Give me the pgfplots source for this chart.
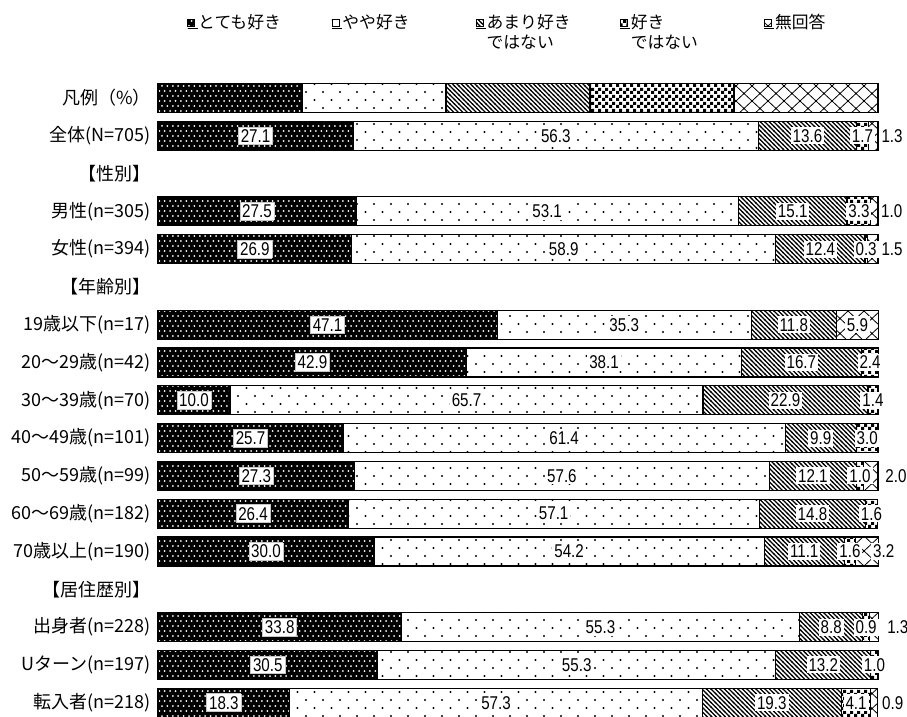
\documentclass[border=0pt]{standalone}
\usepackage{fontspec}
\setmainfont{Noto Sans CJK JP}
\newfontfamily\numfont{Liberation Sans}[FakeStretch=0.82]
\usepackage{pgfplots}
\pgfplotsset{compat=1.18}
\usepackage{pgfplotstable}
\usetikzlibrary{patterns}

\pgfdeclarepatternformonly{wdots}{\pgfqpoint{-1.5pt}{-1.5pt}}{\pgfqpoint{6.9pt}{11.5pt}}{\pgfqpoint{5.4pt}{10pt}}{%
  \pgfpathcircle{\pgfqpoint{0pt}{0pt}}{1.0pt}%
  \pgfpathcircle{\pgfqpoint{2.7pt}{5pt}}{1.0pt}%
  \pgfusepath{fill}}
\pgfdeclarepatternformonly{sdots}{\pgfqpoint{-1.5pt}{-1.5pt}}{\pgfqpoint{18.5pt}{17.5pt}}{\pgfqpoint{17pt}{16pt}}{%
  \pgfpathcircle{\pgfqpoint{0pt}{0pt}}{1.1pt}%
  \pgfpathcircle{\pgfqpoint{8.5pt}{8pt}}{1.1pt}%
  \pgfusepath{fill}}
\pgfdeclarepatternformonly{hatch}{\pgfqpoint{-1pt}{-1pt}}{\pgfqpoint{5.5pt}{5.5pt}}{\pgfqpoint{4.5pt}{4.5pt}}{%
  \pgfsetlinewidth{1.1pt}%
  \pgfpathmoveto{\pgfqpoint{-0.5pt}{5pt}}\pgfpathlineto{\pgfqpoint{5pt}{-0.5pt}}%
  \pgfusepath{stroke}}
\pgfdeclarepatternformonly{checker}{\pgfqpoint{0pt}{0pt}}{\pgfqpoint{7pt}{7pt}}{\pgfqpoint{7pt}{7pt}}{%
  \pgfpathrectangle{\pgfqpoint{0pt}{0pt}}{\pgfqpoint{3.5pt}{3.5pt}}%
  \pgfpathrectangle{\pgfqpoint{3.5pt}{3.5pt}}{\pgfqpoint{3.5pt}{3.5pt}}%
  \pgfusepath{fill}}
\pgfdeclarepatternformonly{diamond}{\pgfqpoint{-1pt}{-1pt}}{\pgfqpoint{17pt}{16pt}}{\pgfqpoint{16pt}{15pt}}{%
  \pgfsetlinewidth{0.8pt}%
  \pgfpathmoveto{\pgfqpoint{-0.5pt}{-0.47pt}}\pgfpathlineto{\pgfqpoint{16.5pt}{15.47pt}}%
  \pgfpathmoveto{\pgfqpoint{-0.5pt}{15.47pt}}\pgfpathlineto{\pgfqpoint{16.5pt}{-0.47pt}}%
  \pgfusepath{stroke}}

\pgfplotstableread{
y  a    b    c    d   e   eo
16 20   20   20   20  20  0
15 27.1 56.3 13.6 1.7 1.3 2.6
13 27.5 53.1 15.1 3.3 1.0 2.4
12 26.9 58.9 12.4 0.3 1.5 2.7
10 47.1 35.3 11.8 0   5.9 0
9  42.9 38.1 16.7 2.4 0   0
8  10.0 65.7 22.9 1.4 0   0
7  25.7 61.4 9.9  3.0 0   0
6  27.3 57.6 12.1 1.0 2.0 3.5
5  26.4 57.1 14.8 1.6 0   0
4  30.0 54.2 11.1 1.6 3.2 2.3
2  33.8 55.3 8.8  0.9 1.3 3.3
1  30.5 55.3 13.2 1.0 0   0
0  18.3 57.3 19.3 4.1 0.9 2.6
}\data

\def\zerostr{0}
\setlength{\fboxsep}{2pt}
\setlength{\fboxrule}{0.7pt}
\newcommand\boxA[1]{\edef\tmp{#1}\ifx\tmp\zerostr\else\fcolorbox{gray!45}{white}{\tmp}\fi}
\newcommand\boxB[1]{\edef\tmp{#1}\ifx\tmp\zerostr\else\colorbox{white}{\tmp}\fi}

\pgfplotsset{
  sA/.style={draw=black, line width=1.2pt, fill=black, postaction={pattern=wdots, pattern color=white}},
  sB/.style={draw=black, line width=1.2pt, fill=white, postaction={pattern=sdots, pattern color=black}},
  sC/.style={draw=black, line width=1.2pt, fill=white, postaction={pattern=hatch, pattern color=black}},
  sD/.style={draw=black, line width=1.2pt, fill=white, postaction={pattern=checker, pattern color=black}},
  sE/.style={draw=black, line width=1.2pt, fill=white, postaction={pattern=diamond, pattern color=black}},
  lab/.style={only marks, mark=*, mark size=0pt, mark options={draw=none, fill=none},
    point meta=explicit symbolic, skip coords between index={0}{1}},
}

\begin{document}
\begin{tikzpicture}
\begin{axis}[
  name=main,
  scale only axis, width=720pt, height=642.6pt,
  xbar stacked, bar width=29pt,
  xmin=0, xmax=100, ymin=-0.5, ymax=16.5,
  axis line style={draw=none}, xtick=\empty,
  ytick={0,1,...,16},
  yticklabels={転入者(n=218), Uターン(n=197), 出身者(n=228), 【居住歴別】, 70歳以上(n=190), 60～69歳(n=182), 50～59歳(n=99), 40～49歳(n=101), 30～39歳(n=70), 20～29歳(n=42), 19歳以下(n=17), 【年齢別】, 女性(n=394), 男性(n=305), 【性別】, 全体(N=705), 凡例（\%）},
  major tick length=0pt,
  yticklabel style={font=\fontsize{18}{20}\selectfont, anchor=east, inner sep=0pt, xshift=-7pt},
  clip=false,
  legend columns=5,
  legend image code/.code={\draw[#1, line width=0.6pt] (0pt,2pt) rectangle (7pt,9pt); \path (0pt,0pt) -- (10pt,0pt);},
  legend style={at={(axis description cs:0.0403,1.101)}, anchor=north west, draw=none, fill=none,
    inner sep=0pt, outer sep=0pt, column sep=0pt, row sep=0pt,
    font=\fontsize{16.8}{20}\selectfont,
    nodes={inner sep=0pt, text width=133pt, align=left, anchor=base west},
    cells={anchor=base west}},
]
\addplot[sA] table[x=a, y=y]{\data};
\addlegendentry{とても好き}
\addplot[sB] table[x=b, y=y]{\data};
\addlegendentry{やや好き}
\addplot[sC] table[x=c, y=y]{\data};
\addlegendentry{あまり好き\\ではない}
\addplot[sD] table[x=d, y=y]{\data};
\addlegendentry{好き\\ではない}
\addplot[sE] table[x=e, y=y]{\data};
\addlegendentry{無回答}
\coordinate (nw) at (rel axis cs:0,1);
\end{axis}

\begin{axis}[
  scale only axis, width=720pt, height=642.6pt,
  xmin=0, xmax=100, ymin=-0.5, ymax=16.5,
  axis lines=none, clip=false,
  nodes near coords align={center},
  every node near coord/.append style={font=\numfont\fontsize{18.5}{18.5}\selectfont, inner sep=0pt, anchor=center},
]
\addplot[lab, nodes near coords={\boxA{\pgfplotspointmeta}}]
  table[x expr=\thisrow{a}/2, y=y, meta=a]{\data};
\addplot[lab, nodes near coords={\boxB{\pgfplotspointmeta}}]
  table[x expr=\thisrow{a}+\thisrow{b}/2, y=y, meta=b]{\data};
\addplot[lab, nodes near coords={\boxB{\pgfplotspointmeta}}]
  table[x expr=\thisrow{a}+\thisrow{b}+\thisrow{c}/2, y=y, meta=c]{\data};
\addplot[lab, nodes near coords={\boxB{\pgfplotspointmeta}}]
  table[x expr=\thisrow{a}+\thisrow{b}+\thisrow{c}+\thisrow{d}/2, y=y, meta=d]{\data};
\addplot[lab, nodes near coords={\boxB{\pgfplotspointmeta}}]
  table[x expr=\thisrow{a}+\thisrow{b}+\thisrow{c}+\thisrow{d}+\thisrow{e}/2+\thisrow{eo}, y=y, meta=e]{\data};
\end{axis}

\pgfresetboundingbox
\path[use as bounding box] ([xshift=-158pt,yshift=79pt]nw) rectangle ([xshift=749pt,yshift=-637pt]nw);
\end{tikzpicture}
\end{document}
